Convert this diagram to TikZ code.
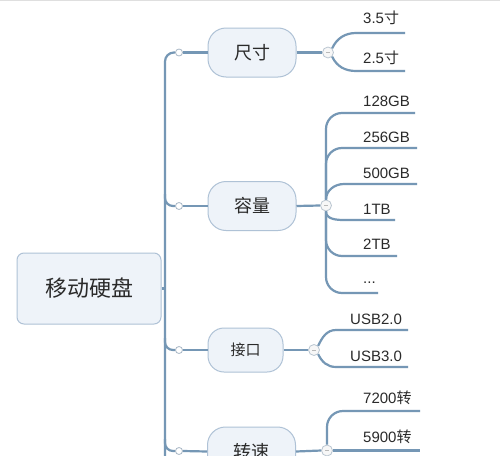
\documentclass[tikz,border=0pt]{standalone}
\usepackage{fontspec}
\setmainfont{Liberation Sans}
\newfontfamily\cjk{Noto Sans CJK SC}
\definecolor{ln}{HTML}{7597B5}
\definecolor{nfill}{HTML}{EEF3F9}
\definecolor{nborder}{HTML}{AFC2D6}
\definecolor{txt}{HTML}{2A2A2A}
\definecolor{dotborder}{HTML}{A9B8C6}
\begin{document}
\begin{tikzpicture}[x=1pt,y=-1pt,
  link/.style={draw=ln, line width=2.2pt},
  rootbox/.style={draw=nborder, fill=nfill, line width=1pt, rounded corners=7pt,
    minimum width=144pt, minimum height=71pt, inner sep=0pt,
    font=\cjk\fontsize{22}{24}\selectfont, text=txt},
  topic/.style={draw=nborder, fill=nfill, line width=1pt, rounded corners=18pt,
    minimum width=88pt, minimum height=49pt, inner sep=0pt,
    font=\cjk\fontsize{18}{20}\selectfont, text=txt},
  dotc/.style={circle, draw=dotborder, fill=white, line width=0.8pt,
    minimum size=7pt, inner sep=0pt},
  fold/.style={circle, draw=dotborder!80, fill=gray!6, line width=0.8pt,
    minimum size=11pt, inner sep=0pt,
    path picture={\draw[gray!55, line width=0.5pt]
      ([xshift=-2pt]path picture bounding box.center) --
      ([xshift=2pt]path picture bounding box.center);}},
  leaf/.style={anchor=west, inner sep=0pt, font=\fontsize{15}{17}\selectfont, text=txt}
]
\useasboundingbox (0,0) rectangle (500,455);
\clip (0,0) rectangle (500,455);
\fill[white] (0,0) rectangle (500,455);
\draw[gray!25, line width=1pt] (0,0.5) -- (500,0.5);

% root and topics
\node[rootbox] (root) at (89,288.5) {移动硬盘};
\node[topic] (n1) at (252,52.5) {尺寸};
\node[topic] (n2) at (252,206) {容量};
\node[topic, minimum width=75pt, minimum height=44pt, rounded corners=16pt,
      font=\cjk\fontsize{15}{17}\selectfont] (n3) at (245.5,350) {接口};
\node[topic] (n4) at (251.5,451.5) {转速};

% small circles on trunk side
\node[dotc] (d1) at (179,52.5) {};
\node[dotc] (d2) at (179,206) {};
\node[dotc] (d3) at (179,350) {};
\node[dotc] (d4) at (179,451) {};

% fold circles
\node[fold] (f1) at (328,52.5) {};
\node[fold] (f2) at (326,205.5) {};
\node[fold] (f3) at (314,350) {};
\node[fold] (f4) at (327,450.5) {};

% trunk
\coordinate (tb) at (165,470);
\coordinate (tr) at (165,288.5);
\coordinate (t2) at (165,194);
\coordinate (t3) at (165,338);
\coordinate (t4) at (165,439);
\draw[link, rounded corners=9pt] (d1.west) -| (tb);
\draw[link] (root.east) -- (tr);
\draw[link, rounded corners=8pt] (t2) |- (d2.west);
\draw[link, rounded corners=8pt] (t3) |- (d3.west);
\draw[link, rounded corners=8pt] (t4) |- (d4.west);

% circle -> topic -> fold
\foreach \i in {1,2,3,4}{
  \draw[link] (d\i.east) -- (n\i.west);
  \draw[link] (n\i.east) -- (f\i.west);
}

% 尺寸 children
\coordinate (c11) at (356,33);  \coordinate (e11) at (405,33);
\coordinate (c12) at (356,71);  \coordinate (e12) at (405,71);
\draw[link] (f1.north east) to[out=65,in=180] (c11) -- (e11);
\draw[link] (f1.south east) to[out=-65,in=180] (c12) -- (e12);
\node[leaf] (l11) at (363,18) {3.5{\cjk 寸}};
\node[leaf] (l12) at (363,58) {2.5{\cjk 寸}};

% 容量 children
\coordinate (e21) at (415,113);
\coordinate (e22) at (417,148);
\coordinate (c23) at (344,184); \coordinate (e23) at (417,184);
\coordinate (c24) at (344,220); \coordinate (e24) at (395,220);
\coordinate (e25) at (397,256);
\coordinate (e26) at (378,293);
\draw[link, rounded corners=16pt] (f2.north) |- (e21);
\draw[link, rounded corners=16pt] (f2.north) |- (e22);
\draw[link] (f2.north) to[out=90,in=180] (c23) -- (e23);
\draw[link] (f2.south) to[out=-90,in=180] (c24) -- (e24);
\draw[link, rounded corners=16pt] (f2.south) |- (e25);
\draw[link, rounded corners=16pt] (f2.south) |- (e26);
\node[leaf] (l21) at (363,101) {128GB};
\node[leaf] (l22) at (363,137) {256GB};
\node[leaf] (l23) at (363,173) {500GB};
\node[leaf] (l24) at (363,209) {1TB};
\node[leaf] (l25) at (363,244) {2TB};
\node[leaf] (l26) at (363,283) {...};

% 接口 children
\coordinate (c31) at (336,330); \coordinate (e31) at (408,330);
\coordinate (c32) at (336,367); \coordinate (e32) at (408,367);
\draw[link] (f3.north east) to[out=65,in=180] (c31) -- (e31);
\draw[link] (f3.south east) to[out=-65,in=180] (c32) -- (e32);
\node[leaf] (l31) at (350,319.5) {USB2.0};
\node[leaf] (l32) at (350,356) {USB3.0};

% 转速 children
\coordinate (e41) at (420,411);
\coordinate (e42) at (420,450.5);
\draw[link, rounded corners=16pt] (f4.north) |- (e41);
\draw[link] (f4.east) -- (e42);
\node[leaf] (l41) at (363,397.5) {7200{\cjk 转}};
\node[leaf] (l42) at (363,437) {5900{\cjk 转}};
\end{tikzpicture}
\end{document}
